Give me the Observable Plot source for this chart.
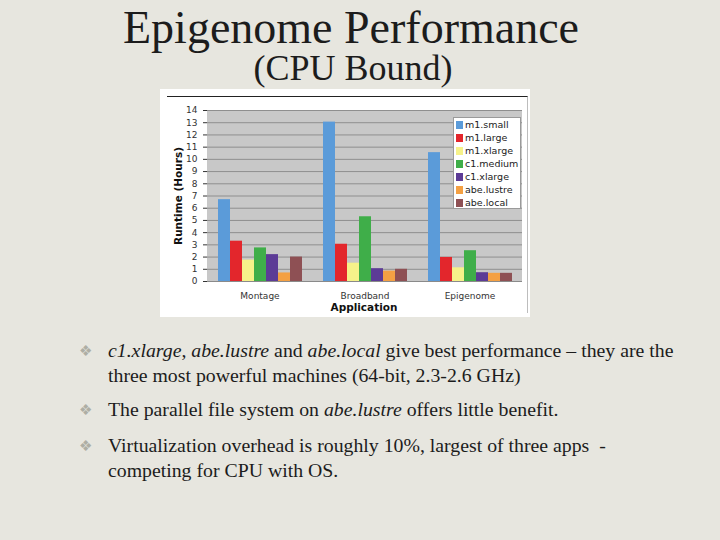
<!DOCTYPE html>
<html><head><meta charset="utf-8">
<script src="https://cdn.jsdelivr.net/npm/d3@7"></script>
<script src="https://cdn.jsdelivr.net/npm/@observablehq/plot@0.6"></script>
<style>
html,body{margin:0;padding:0;}
body{width:720px;height:540px;background:#e7e6df;position:relative;overflow:hidden;font-family:"Liberation Serif","Times New Roman",serif;color:#1c1c1c;}
.abs{position:absolute;}
.bl{position:absolute;left:108px;font-size:19.8px;line-height:25px;white-space:nowrap;}
.bm{position:absolute;left:79px;font-family:"DejaVu Sans";font-size:15px;line-height:20px;color:#aeaea4;}
#legend{position:absolute;left:453px;top:117px;width:66px;height:90px;background:#fff;border:1px solid #9a9a9a;font-family:"DejaVu Sans";font-size:9.5px;color:#222;}
#legend .row{position:absolute;left:2px;height:13px;line-height:13px;white-space:nowrap;}
#legend .sw{display:inline-block;width:7px;height:8px;margin-right:2px;vertical-align:-1px;}
</style></head><body>
<div class="abs" style="left:0;top:7.5px;width:702px;text-align:center;font-size:46px;line-height:40px;">Epigenome Performance</div>
<div class="abs" style="left:0;top:53px;width:706px;text-align:center;font-size:36px;line-height:30px;">(CPU Bound)</div>
<div class="abs" style="left:160px;top:89px;width:370px;height:228px;background:#fff;"></div>
<div class="abs" style="left:167px;top:96px;width:360px;height:216px;border-top:1px solid #222;border-right:1px solid #bdbdbd;"></div>
<div class="abs" style="left:207px;top:110px;width:315px;height:171px;background:#c8c8c8;"></div>
<div id="chart" class="abs" style="left:160px;top:89px;width:370px;height:228px;"></div>
<div class="abs" style="left:178px;top:196px;transform:translate(-50%,-50%) rotate(-90deg);font-family:'DejaVu Sans';font-weight:bold;font-size:10.5px;white-space:nowrap;color:#111;">Runtime (Hours)</div>
<div class="abs" style="left:364px;top:307px;transform:translate(-50%,-50%);font-family:'DejaVu Sans';font-weight:bold;font-size:10.5px;white-space:nowrap;color:#111;">Application</div>
<div id="legend"></div>

<div class="bm" style="top:341px;">❖</div>
<div class="bl" style="top:338px;"><i>c1.xlarge</i>, <i>abe.lustre</i> and <i>abe.local</i> give best performance – they are the<br>three most powerful machines (64-bit, 2.3-2.6 GHz)</div>
<div class="bm" style="top:400px;">❖</div>
<div class="bl" style="top:397px;">The parallel file system on <i>abe.lustre</i> offers little benefit.</div>
<div class="bm" style="top:436px;">❖</div>
<div class="bl" style="top:433px;">Virtualization overhead is roughly 10%, largest of three apps &nbsp;-<br>competing for CPU with OS.</div>

<script>
const apps = ["Montage", "Broadband", "Epigenome"];
const series = ["m1.small", "m1.large", "m1.xlarge", "c1.medium", "c1.xlarge", "abe.lustre", "abe.local"];
const montage = [6.7, 3.3, 1.75, 2.75, 2.2, 0.7, 2.0];
const broadband = [13.05, 3.05, 1.5, 5.3, 1.05, 0.85, 1.0];
const epigenome = [10.55, 1.97, 1.12, 2.52, 0.72, 0.67, 0.67];
const colors = ["#5b9bd9", "#e3262c", "#f6f28a", "#3fae49", "#5c3b96", "#f4a043", "#8e5054"];
const yTicks = [0, 1, 2, 3, 4, 5, 6, 7, 8, 9, 10, 11, 12, 13, 14];

const rows = [];
[montage, broadband, epigenome].forEach((vals, i) =>
  vals.forEach((v, j) => rows.push({app: apps[i], series: series[j], value: v})));

const chart = Plot.plot({
  width: 370, height: 228,
  marginLeft: 47, marginRight: 8, marginTop: 21, marginBottom: 36,
  style: {fontFamily: "DejaVu Sans", fontSize: "9px", color: "#333", background: "transparent"},
  fx: {domain: apps, axis: "bottom", paddingInner: 0, paddingOuter: 0, label: null, tickSize: 0, tickPadding: 11},
  x: {domain: series, axis: null, paddingInner: 0, paddingOuter: 0.77},
  y: {domain: [0, 14], ticks: yTicks, label: null, tickSize: 4, tickPadding: 6},
  color: {domain: series, range: colors},
  marks: [
    Plot.ruleY(yTicks.slice(1), {stroke: "#8e8e8e"}),
    Plot.barY(rows, {fx: "app", x: "series", y: "value", fill: "series"}),
    Plot.ruleY([0], {stroke: "#8a8a8a"})
  ]
});
document.getElementById("chart").appendChild(chart);

const legend = d3.select("#legend");
series.forEach((s, i) => {
  const r = legend.append("div").attr("class", "row").style("top", (i * 13.07 - 0.5) + "px");
  r.append("span").attr("class", "sw").style("background", colors[i]);
  r.append("span").text(s);
});
</script>
</body></html>
